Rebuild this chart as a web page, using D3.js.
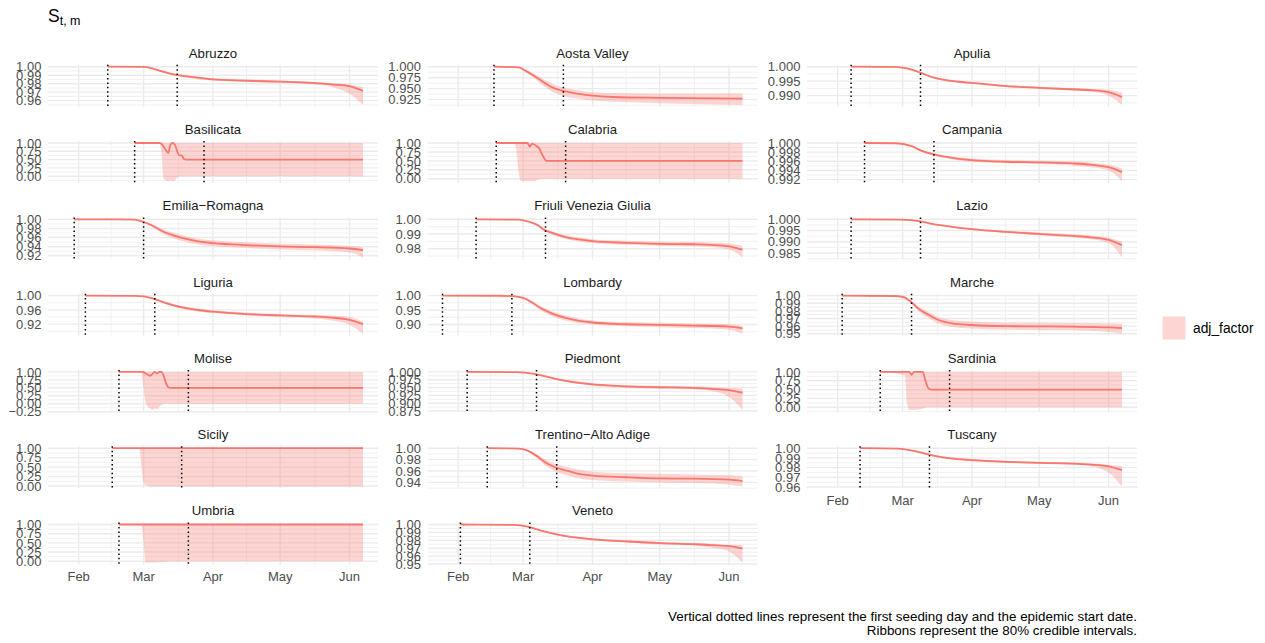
<!DOCTYPE html>
<html>
<head>
<meta charset="utf-8">
<script src="https://cdn.jsdelivr.net/npm/d3@7"></script>
<style>
  body { margin: 0; background: #fff; }
  svg text { font-family: "Liberation Sans", Arial, Helvetica, sans-serif; }
</style>
</head>
<body>
<svg id="chart" width="1265" height="643"></svg>
<script>
// ---- data -------------------------------------------------------------
const regions = ["Abruzzo", "Aosta Valley", "Apulia", "Basilicata", "Calabria", "Campania",
  "Emilia\u2212Romagna", "Friuli Venezia Giulia", "Lazio", "Liguria", "Lombardy", "Marche",
  "Molise", "Piedmont", "Sardinia", "Sicily", "Trentino\u2212Alto Adige", "Tuscany", "Umbria", "Veneto"];

// first seeding day and epidemic start date (2020, MM-DD)
const seedingDays = ["02-14","02-17","02-07","02-26","02-18","02-13","01-30","02-09","02-07","02-04",
  "01-25","02-03","02-19","02-05","02-20","02-16","02-14","02-11","02-19","02-02"];
const epidemicStarts = ["03-16","03-19","03-09","03-28","03-20","03-15","03-01","03-11","03-09","03-06",
  "02-25","03-05","03-21","03-07","03-22","03-18","03-16","03-13","03-21","03-04"];

// sampled dates of S(t,m) per region
const sampleDates = [
  ["02-14","03-01","03-08","03-15","03-22","04-01","04-15","05-01","05-15","05-25","06-01","06-07"],
  ["02-17","02-28","03-02","03-05","03-08","03-11","03-14","03-18","03-26","04-01","04-10","05-01","06-07"],
  ["02-07","02-26","03-03","03-08","03-15","03-26","04-01","04-15","05-01","05-15","05-24","06-01","06-07"],
  ["02-26","03-08","03-09","03-10","03-11","03-12","03-13","03-14","03-15","03-16","03-17","03-18","03-19","03-20","06-07"],
  ["02-18","02-26","02-27","02-28","02-29","03-03","03-04","03-05","03-06","03-07","03-08","03-09","03-10","03-11","03-12","06-07"],
  ["02-13","02-27","03-05","03-09","03-14","03-20","03-26","04-01","04-16","05-01","05-16","05-24","06-01","06-07"],
  ["01-30","02-26","03-01","03-05","03-09","03-14","03-20","03-26","04-01","04-16","05-01","05-16","06-01","06-07"],
  ["02-09","02-28","03-03","03-08","03-10","03-14","03-20","03-26","04-01","04-16","05-01","05-16","05-24","06-01","06-07"],
  ["02-07","02-29","03-09","03-14","03-20","04-01","04-16","05-01","05-16","05-24","06-01","06-07"],
  ["02-04","02-26","03-01","03-05","03-09","03-14","03-20","03-26","04-01","04-16","05-01","05-16","05-24","06-01","06-07"],
  ["01-25","02-20","02-25","03-01","03-05","03-09","03-14","03-20","03-26","04-01","04-16","05-01","05-16","06-01","06-07"],
  ["02-03","02-26","03-01","03-05","03-08","03-13","03-17","03-23","04-01","04-16","05-01","05-16","06-01","06-07"],
  ["02-19","02-29","03-01","03-02","03-03","03-04","03-05","03-06","03-07","03-08","03-09","03-10","03-11","03-12","03-13","06-07"],
  ["02-05","02-27","03-06","03-11","03-17","03-26","04-01","04-16","05-01","05-16","05-24","06-01","06-07"],
  ["02-20","03-02","03-03","03-04","03-05","03-06","03-08","03-10","03-11","03-12","03-13","03-14","06-07"],
  ["02-16","02-28","02-29","03-01","03-02","03-04","06-07"],
  ["02-14","02-28","03-03","03-08","03-11","03-15","03-20","03-26","04-01","04-16","05-01","05-16","06-01","06-07"],
  ["02-11","02-28","03-07","03-13","03-19","03-26","04-01","04-16","05-01","05-16","05-24","06-01","06-07"],
  ["02-19","02-29","03-01","03-02","03-05","03-12","03-20","06-07"],
  ["02-02","02-26","03-03","03-09","03-17","03-26","04-01","04-16","05-01","05-16","05-24","06-01","06-07"]
];

// posterior median of S(t,m)
const medianS = [
  [1,0.9997,0.9955,0.9906,0.988,0.985,0.9835,0.9824,0.981,0.979,0.977,0.9714],
  [1,0.9985,0.991,0.982,0.972,0.962,0.953,0.946,0.938,0.934,0.931,0.929,0.9275],
  [1,0.99995,0.9994,0.9982,0.9962,0.9948,0.9944,0.9934,0.9927,0.9922,0.9919,0.9912,0.9895],
  [1,1,0.98,0.88,0.78,0.7,0.95,1,0.95,0.75,0.63,0.63,0.52,0.5,0.5],
  [1,1,1,1,1,1,0.9,0.98,0.96,0.91,0.87,0.74,0.62,0.52,0.5,0.5],
  [1,0.99995,0.9993,0.9984,0.9976,0.997,0.99653,0.99625,0.9959,0.99575,0.99554,0.99526,0.9947,0.99363],
  [1,0.9995,0.9941,0.986,0.975,0.9655,0.957,0.951,0.948,0.9435,0.9405,0.939,0.936,0.9325],
  [1,0.9998,0.9986,0.9956,0.9933,0.9907,0.9879,0.9863,0.9851,0.984,0.9833,0.983,0.9826,0.9816,0.9793],
  [1,0.99985,0.9991,0.998,0.9971,0.9956,0.9944,0.9935,0.9926,0.992,0.9908,0.9885],
  [1,0.9995,0.998,0.9922,0.9834,0.9736,0.9649,0.959,0.955,0.9483,0.9444,0.9414,0.9385,0.9317,0.92],
  [1,0.9995,0.998,0.9918,0.976,0.956,0.938,0.923,0.913,0.907,0.901,0.899,0.8965,0.893,0.887],
  [1,0.9995,0.9985,0.9912,0.983,0.9743,0.968,0.9637,0.9615,0.96,0.9597,0.9593,0.9584,0.9575],
  [1,1,0.99,0.95,0.91,0.88,0.94,1,0.95,1,1,0.87,0.65,0.52,0.5,0.5],
  [1,0.9995,0.9938,0.9857,0.9754,0.965,0.96,0.954,0.951,0.949,0.9457,0.9416,0.9334],
  [1,1,1,1,0.92,1,1,1,0.8,0.6,0.51,0.5,0.5],
  [1,1,1,1,1,1,1],
  [1,0.9992,0.9958,0.9838,0.9748,0.967,0.961,0.955,0.952,0.949,0.947,0.9466,0.9448,0.9424],
  [1,0.9996,0.9968,0.9933,0.9905,0.9888,0.9877,0.986,0.9849,0.9842,0.9832,0.9814,0.9775],
  [1,1,1,1,1,1,1,1],
  [1,0.9995,0.9974,0.9922,0.987,0.983,0.9813,0.9787,0.9765,0.9752,0.9739,0.9726,0.9696]
];

// lower bound of the 80% credible interval
const lowerS = [
  [1,0.9996,0.9945,0.9895,0.9865,0.9836,0.982,0.981,0.9792,0.9755,0.968,0.955],
  [1,0.998,0.988,0.977,0.965,0.953,0.943,0.935,0.927,0.923,0.92,0.917,0.913],
  [1,0.9999,0.9993,0.998,0.9959,0.9944,0.994,0.993,0.9923,0.9918,0.9913,0.99,0.9868],
  [1,1,0.7,-0.08,-0.13,-0.15,-0.12,-0.15,-0.13,-0.05,-0.01,0,0,0,0],
  [1,1,0.8,0.2,-0.06,-0.07,-0.07,-0.07,-0.07,-0.05,-0.02,0,0,0,0,0],
  [1,0.9999,0.9992,0.9982,0.9974,0.9967,0.9962,0.9959,0.99555,0.9954,0.9951,0.9947,0.994,0.99165],
  [1,0.9992,0.9925,0.983,0.97,0.959,0.95,0.944,0.9415,0.937,0.934,0.932,0.927,0.9163],
  [1,0.9997,0.9983,0.9948,0.9923,0.9895,0.9866,0.9849,0.9838,0.9826,0.9819,0.9815,0.981,0.9795,0.974],
  [1,0.9998,0.9989,0.99775,0.99675,0.9952,0.9939,0.9929,0.9919,0.9911,0.9895,0.983],
  [1,0.9993,0.997,0.99,0.98,0.97,0.9605,0.9545,0.951,0.944,0.94,0.936,0.93,0.918,0.893],
  [1,0.999,0.9965,0.988,0.97,0.948,0.929,0.914,0.905,0.9,0.894,0.891,0.888,0.882,0.868],
  [1,0.9992,0.9976,0.9895,0.98,0.97,0.9635,0.9593,0.957,0.9555,0.955,0.9545,0.9525,0.95],
  [1,1,0.5,0.02,-0.1,-0.15,-0.2,-0.14,-0.17,-0.1,-0.03,0,0,0,0,0],
  [1,0.9992,0.9925,0.9835,0.9725,0.961,0.956,0.9495,0.946,0.9435,0.939,0.92,0.878],
  [1,0.9,0.1,-0.07,-0.08,-0.07,-0.06,-0.04,-0.02,0,0,0,0],
  [1,1,0.55,0.1,0.02,-0.01,-0.01],
  [1,0.9988,0.9945,0.98,0.969,0.96,0.953,0.947,0.944,0.9415,0.94,0.939,0.936,0.933],
  [1,0.9994,0.9962,0.9925,0.9895,0.9877,0.9866,0.9849,0.9838,0.983,0.9815,0.975,0.9607],
  [1,1,0.55,-0.04,-0.035,-0.01,0,0],
  [1,0.9993,0.997,0.9915,0.986,0.9818,0.98,0.9772,0.9748,0.9732,0.971,0.966,0.9517]
];

// upper bound of the 80% credible interval
const upperS = [
  [1,0.9998,0.9965,0.9916,0.9893,0.9863,0.9849,0.9837,0.9824,0.9806,0.979,0.976],
  [1,0.999,0.993,0.986,0.978,0.969,0.961,0.954,0.946,0.942,0.94,0.939,0.9395],
  [1,1,0.9995,0.9984,0.9965,0.9951,0.9947,0.9937,0.9931,0.9926,0.9924,0.992,0.9911],
  [1,1,1,1,1,1,1,1,1,1,1,1,1,1,1],
  [1,1,1,1,1,1,1,1,1,1,1,1,1,1,1,1],
  [1,1,0.99945,0.9986,0.99785,0.99728,0.9969,0.99662,0.99628,0.99612,0.99595,0.99575,0.99525,0.9945],
  [1,0.9998,0.9955,0.989,0.98,0.971,0.963,0.957,0.954,0.9495,0.9465,0.945,0.9415,0.939],
  [1,0.9999,0.9989,0.9963,0.9943,0.9919,0.9892,0.9877,0.9865,0.9854,0.9847,0.9845,0.9842,0.9836,0.9818],
  [1,0.9999,0.99925,0.99825,0.99745,0.996,0.9949,0.9941,0.9933,0.9928,0.9918,0.99],
  [1,0.9997,0.9988,0.9944,0.9868,0.9772,0.969,0.9635,0.959,0.9525,0.9485,0.9458,0.944,0.94,0.927],
  [1,0.9998,0.9992,0.995,0.982,0.963,0.946,0.931,0.921,0.914,0.908,0.906,0.904,0.901,0.895],
  [1,0.9998,0.9992,0.993,0.986,0.978,0.972,0.968,0.966,0.9645,0.9643,0.964,0.9638,0.9635],
  [1,1,1,1,1,1,1,1,1,1,1,1,1,1,1,1],
  [1,0.9998,0.995,0.9878,0.978,0.969,0.964,0.958,0.955,0.9535,0.951,0.9485,0.9467],
  [1,1,1,1,1,1,1,1,1,1,1,1,1],
  [1,1,1,1,1,1,1],
  [1,0.9996,0.997,0.9875,0.98,0.973,0.9675,0.962,0.9585,0.956,0.955,0.954,0.953,0.951],
  [1,0.9998,0.9974,0.9941,0.9915,0.9899,0.9888,0.9871,0.986,0.9853,0.9846,0.9828,0.9817],
  [1,1,1,1,1,1,1,1],
  [1,0.9997,0.9978,0.9929,0.988,0.9842,0.9826,0.9802,0.978,0.977,0.976,0.9738,0.974]
];

// y-axis tick labels per region
const yTickLabels = [
  ["0.96","0.97","0.98","0.99","1.00"],
  ["0.925","0.950","0.975","1.000"],
  ["0.990","0.995","1.000"],
  ["0.00","0.25","0.50","0.75","1.00"],
  ["0.00","0.25","0.50","0.75","1.00"],
  ["0.992","0.994","0.996","0.998","1.000"],
  ["0.92","0.94","0.96","0.98","1.00"],
  ["0.98","0.99","1.00"],
  ["0.985","0.990","0.995","1.000"],
  ["0.92","0.96","1.00"],
  ["0.90","0.95","1.00"],
  ["0.95","0.96","0.97","0.98","0.99","1.00"],
  ["\u22120.25","0.00","0.25","0.50","0.75","1.00"],
  ["0.875","0.900","0.925","0.950","0.975","1.000"],
  ["0.00","0.25","0.50","0.75","1.00"],
  ["0.00","0.25","0.50","0.75","1.00"],
  ["0.94","0.96","0.98","1.00"],
  ["0.96","0.97","0.98","0.99","1.00"],
  ["0.00","0.25","0.50","0.75","1.00"],
  ["0.95","0.96","0.97","0.98","0.99","1.00"]
];

const monthTicks = ["02-01","03-01","04-01","05-01","06-01"];
const monthLabels = ["Feb","Mar","Apr","May","Jun"];
const legendLabel = "adj_factor";
const captionLines = [
  "Vertical dotted lines represent the first seeding day and the epidemic start date.",
  "Ribbons represent the 80% credible intervals."
];

// ---- layout & style ----------------------------------------------------
const nCols = 3;
const left0 = 48, top0 = 64.8;
const panelW = 330, panelH = 42;
const colStep = 379.5, rowStep = 76.3;
const hue = "#F8766D";
const gridCol = "#EBEBEB";
const axisTextCol = "#4D4D4D";

const parseDay = s => d3.utcParse("%Y-%m-%d")("2020-" + s);
const svg = d3.select("#chart");

// shared time scale (ggplot-style 5% expansion)
const tMin = d3.min(seedingDays, parseDay);
const tMax = d3.max(sampleDates, ds => parseDay(ds[ds.length - 1]));
const tPad = 0.05 * (tMax - tMin);
const x = d3.scaleUtc()
  .domain([new Date(+tMin - tPad), new Date(+tMax + tPad)])
  .range([0, panelW]);

const majorX = monthTicks.map(parseDay);
const stepX = majorX[1] - majorX[0];
const extX = [new Date(+majorX[0] - stepX), ...majorX, new Date(+majorX[majorX.length - 1] + stepX)];
const minorX = d3.pairs(extX, (a, b) => new Date((+a + +b) / 2))
  .filter(d => d >= x.domain()[0] && d <= x.domain()[1]);

// ---- panels ------------------------------------------------------------
regions.forEach((name, i) => {
  const col = i % nCols, row = Math.floor(i / nCols);
  const g = svg.append("g")
    .attr("transform", `translate(${left0 + col * colStep},${top0 + row * rowStep})`);

  const pts = sampleDates[i].map((s, j) => ({
    date: parseDay(s), med: medianS[i][j], lo: lowerS[i][j], hi: upperS[i][j]
  }));
  const yLo = d3.min(pts, p => p.lo), yHi = d3.max(pts, p => p.hi);
  const yPad = 0.05 * (yHi - yLo);
  const y = d3.scaleLinear().domain([yLo - yPad, yHi + yPad]).range([panelH, 0]);
  const [d0, d1] = y.domain();

  const majorY = yTickLabels[i].map(s => +s.replace("\u2212", "-"));
  const stepY = majorY[1] - majorY[0];
  const extY = [majorY[0] - stepY, ...majorY, majorY[majorY.length - 1] + stepY];
  const minorY = d3.pairs(extY, (a, b) => (a + b) / 2).filter(v => v >= d0 && v <= d1);

  // minor grid
  g.selectAll(".gy-minor").data(minorY).join("line")
    .attr("x1", 0).attr("x2", panelW).attr("y1", d => y(d)).attr("y2", d => y(d))
    .attr("stroke", gridCol).attr("stroke-width", 0.7);
  g.selectAll(".gx-minor").data(minorX).join("line")
    .attr("x1", d => x(d)).attr("x2", d => x(d)).attr("y1", 0).attr("y2", panelH)
    .attr("stroke", gridCol).attr("stroke-width", 0.7);
  // major grid
  g.selectAll(".gy-major").data(majorY.filter(v => v >= d0 && v <= d1)).join("line")
    .attr("x1", 0).attr("x2", panelW).attr("y1", d => y(d)).attr("y2", d => y(d))
    .attr("stroke", gridCol).attr("stroke-width", 1.4);
  g.selectAll(".gx-major").data(majorX).join("line")
    .attr("x1", d => x(d)).attr("x2", d => x(d)).attr("y1", 0).attr("y2", panelH)
    .attr("stroke", gridCol).attr("stroke-width", 1.4);

  // credible-interval ribbon
  g.append("path").datum(pts)
    .attr("d", d3.area().x(p => x(p.date)).y0(p => y(p.lo)).y1(p => y(p.hi)).curve(d3.curveMonotoneX))
    .attr("fill", hue).attr("fill-opacity", 0.3);

  // median line
  g.append("path").datum(pts)
    .attr("d", d3.line().x(p => x(p.date)).y(p => y(p.med)).curve(d3.curveMonotoneX))
    .attr("fill", "none").attr("stroke", hue).attr("stroke-width", 1.8);

  // seeding day & epidemic start
  g.selectAll(".vline").data([seedingDays[i], epidemicStarts[i]].map(parseDay)).join("line")
    .attr("x1", d => x(d)).attr("x2", d => x(d)).attr("y1", 0).attr("y2", panelH)
    .attr("stroke", "#000").attr("stroke-width", 1.5).attr("stroke-dasharray", "1.5,2.9");

  // strip label
  g.append("text").attr("x", panelW / 2).attr("y", -7.2).attr("text-anchor", "middle")
    .attr("font-size", 13.2).attr("fill", "#1A1A1A").text(name);

  // y tick labels
  g.selectAll(".ylab").data(yTickLabels[i].map((s, k) => ({s, v: majorY[k]})).filter(t => t.v >= d0 && t.v <= d1))
    .join("text")
    .attr("x", -6.6).attr("y", t => y(t.v)).attr("dy", "0.36em").attr("text-anchor", "end")
    .attr("font-size", 13).attr("fill", axisTextCol).text(t => t.s);

  // x tick labels on the bottom panel of each column
  if (i + nCols >= regions.length) {
    g.selectAll(".xlab").data(majorX).join("text")
      .attr("x", d => x(d)).attr("y", panelH + 16.5).attr("text-anchor", "middle")
      .attr("font-size", 13).attr("fill", axisTextCol).text((d, k) => monthLabels[k]);
  }
});

// ---- title -------------------------------------------------------------
const title = svg.append("text").attr("x", left0).attr("y", 21.7).attr("fill", "#000");
title.append("tspan").attr("font-size", 17.5).text("S");
title.append("tspan").attr("font-size", 12.5).attr("dy", 3.5).text("t, m");

// ---- legend ------------------------------------------------------------
const lg = svg.append("g").attr("transform", "translate(1162.5,316.5)");
lg.append("rect").attr("width", 23).attr("height", 23).attr("fill", hue).attr("fill-opacity", 0.3);
lg.append("text").attr("x", 30.5).attr("y", 11.5).attr("dy", "0.36em")
  .attr("font-size", 13.8).attr("fill", "#000").text(legendLabel);

// ---- caption -----------------------------------------------------------
svg.append("g").selectAll("text").data(captionLines).join("text")
  .attr("x", left0 + 2 * colStep + panelW).attr("y", (d, k) => 620.5 + k * 14)
  .attr("text-anchor", "end").attr("font-size", 13.4)
  .style("font-family", "'Liberation Sans Narrow', 'Arial Narrow', 'Liberation Sans', sans-serif")
  .attr("fill", "#000").text(d => d);
</script>
</body>
</html>
